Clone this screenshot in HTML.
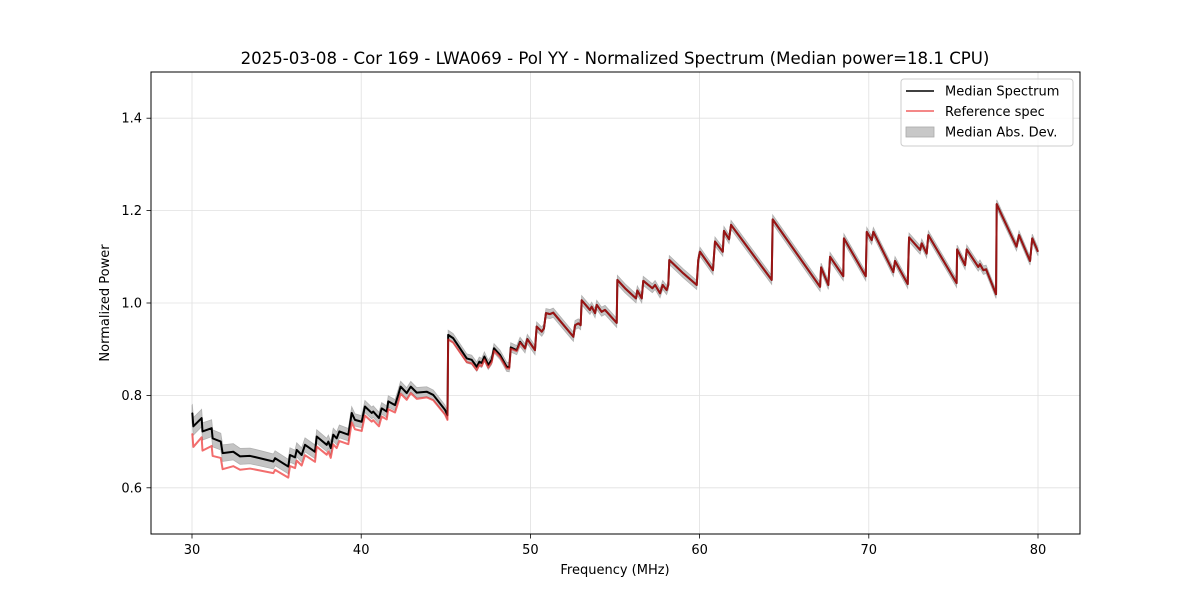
<!DOCTYPE html>
<html><head><meta charset="utf-8">
<style>
html,body{margin:0;padding:0;background:#fff;}
svg{display:block;font-family:"DejaVu Sans","Liberation Sans",sans-serif;}
</style></head>
<body>
<svg id="chart" width="1200" height="600" viewBox="0 0 1200 600" xmlns="http://www.w3.org/2000/svg">
<rect width="1200" height="600" fill="#fff"/>
<text x="615" y="64" font-size="16.6" text-anchor="middle" fill="#000">2025-03-08 - Cor 169 - LWA069 - Pol YY - Normalized Spectrum (Median power=18.1 CPU)</text>
<g id="grid"></g>
<g id="marks"></g>
<rect x="151" y="72" width="929" height="462" fill="none" stroke="#000" stroke-width="1"/>
<g id="axes"></g>
<text x="615" y="574" font-size="13" text-anchor="middle">Frequency (MHz)</text>
<text transform="translate(109,303) rotate(-90)" font-size="13" text-anchor="middle">Normalized Power</text>
<g>
<rect x="901" y="79" width="172" height="67" rx="3" fill="#fff" fill-opacity="0.8" stroke="#ccc"/>
<g><line x1="906" y1="91" x2="934" y2="91" stroke="#000" stroke-width="1.5"/><text x="945" y="95.5" font-size="13">Median Spectrum</text></g>
<g><line x1="906" y1="111" x2="934" y2="111" stroke="rgba(235,30,30,0.7)" stroke-width="1.5"/><text x="945" y="116" font-size="13">Reference spec</text></g>
<g><rect x="906" y="127" width="28" height="10" fill="#c8c8c8" stroke="#aaa" stroke-width="0.8"/><text x="945" y="136.5" font-size="13">Median Abs. Dev.</text></g>
</g>
</svg>
<script>
const freqs = [30.00,30.02,30.08,30.57,30.62,31.16,31.22,31.70,31.81,32.44,32.84,33.43,34.02,34.81,34.91,35.69,35.79,36.09,36.19,36.48,36.68,37.27,37.37,37.96,38.06,38.20,38.35,38.55,38.71,39.24,39.44,39.63,40.03,40.22,40.62,40.71,41.05,41.21,41.51,41.60,42.00,42.19,42.33,42.69,42.93,43.28,43.87,44.26,44.95,45.10,45.14,45.43,46.24,46.53,46.83,46.98,47.12,47.28,47.51,47.71,47.85,48.20,48.60,48.75,48.84,49.19,49.39,49.68,49.82,50.27,50.37,50.67,50.80,50.92,51.16,51.35,52.54,52.64,52.83,52.97,53.03,53.52,53.62,53.82,53.92,54.21,54.41,55.10,55.14,55.59,56.24,56.32,56.58,56.67,57.21,57.37,57.66,57.82,58.05,58.15,58.21,59.04,59.83,59.92,60.02,60.79,60.91,61.37,61.44,61.74,61.86,64.26,64.32,67.12,67.18,67.61,67.71,68.49,68.53,69.82,69.88,70.17,70.27,71.45,71.55,72.30,72.38,73.03,73.13,73.42,73.52,75.19,75.22,75.69,75.79,76.47,76.57,76.77,76.93,77.52,77.56,77.86,78.73,78.88,79.53,79.66,80.00];
const medianValues = [0.760,0.761,0.733,0.751,0.722,0.729,0.707,0.700,0.675,0.678,0.668,0.669,0.664,0.657,0.664,0.646,0.671,0.666,0.682,0.671,0.693,0.678,0.711,0.693,0.700,0.686,0.715,0.707,0.722,0.715,0.762,0.747,0.743,0.776,0.762,0.765,0.751,0.772,0.765,0.787,0.779,0.801,0.819,0.805,0.819,0.806,0.808,0.801,0.769,0.757,0.931,0.924,0.880,0.877,0.862,0.873,0.870,0.884,0.866,0.877,0.902,0.888,0.862,0.861,0.904,0.898,0.916,0.902,0.922,0.898,0.949,0.938,0.945,0.978,0.976,0.979,0.927,0.952,0.956,0.952,1.006,0.985,0.992,0.978,0.996,0.981,0.985,0.957,1.050,1.032,1.010,1.027,1.010,1.048,1.032,1.039,1.021,1.039,1.028,1.039,1.093,1.064,1.039,1.093,1.111,1.071,1.133,1.111,1.156,1.138,1.169,1.050,1.181,1.035,1.077,1.039,1.100,1.058,1.140,1.058,1.154,1.136,1.154,1.067,1.091,1.041,1.142,1.115,1.129,1.107,1.147,1.043,1.116,1.082,1.116,1.078,1.084,1.071,1.073,1.019,1.214,1.190,1.122,1.147,1.091,1.140,1.111];
const refOffsetFreqs = [30,33,37,40,44,45.1,48,50,80];
const refOffsets = [0.045,0.028,0.022,0.02,0.012,0.01,0.005,0,0];
const madFreqs = [30,45,80];
const madValues = [0.019,0.01,0.009];
const xTicks = [30,40,50,60,70,80];
const yTicks = [0.6,0.8,1.0,1.2,1.4];
const yTickLabels = ["0.6","0.8","1.0","1.2","1.4"];

const NS = "http://www.w3.org/2000/svg";
const xs = f => 192 + (f - 30) * 16.92;
const ys = v => 534 - (v - 0.5) * 462;
function interp(fx, fa, va){
  if (fx <= fa[0]) return va[0];
  for (let i=1;i<fa.length;i++) if (fx<=fa[i]) { const t=(fx-fa[i-1])/(fa[i]-fa[i-1]); return va[i-1]+t*(va[i]-va[i-1]); }
  return va[va.length-1];
}
function mk(tag, attrs, parent){ const e=document.createElementNS(NS,tag); for(const k in attrs) e.setAttribute(k,attrs[k]); parent.appendChild(e); return e; }

const grid=document.getElementById('grid'), axes=document.getElementById('axes'), marks=document.getElementById('marks');
xTicks.forEach(t=>{
  const gl=mk('line',{x1:xs(t),x2:xs(t),y1:72,y2:534,stroke:'#e0e0e0','stroke-width':0.8},grid);
  
  
  const tk=mk('line',{x1:xs(t),x2:xs(t),y1:534,y2:538.5,stroke:'#000','stroke-width':0.8},axes);
  
  
  const lb=mk('text',{x:xs(t),y:554,'font-size':13,'text-anchor':'middle'},axes);
  lb.textContent=String(t);
  
  
});
yTicks.forEach((t,i)=>{
  const gl=mk('line',{x1:151,x2:1080,y1:ys(t),y2:ys(t),stroke:'#e0e0e0','stroke-width':0.8},grid);
  
  
  const tk=mk('line',{x1:146.5,x2:151,y1:ys(t),y2:ys(t),stroke:'#000','stroke-width':0.8},axes);
  
  
  const lb=mk('text',{x:142,y:ys(t)+4.5,'font-size':13,'text-anchor':'end'},axes);
  lb.textContent=yTickLabels[i];
  
  
});

let up=[], dn=[];
freqs.forEach((f,i)=>{ const m=interp(f,madFreqs,madValues); up.push(xs(f).toFixed(2)+','+ys(medianValues[i]+m).toFixed(2)); dn.push(xs(f).toFixed(2)+','+ys(medianValues[i]-m).toFixed(2)); });
const band=mk('polygon',{points:up.concat(dn.reverse()).join(' '),fill:'#c4c4c4',stroke:'#b0b0b0','stroke-width':0.8},marks);



const medPts=freqs.map((f,i)=>xs(f).toFixed(2)+','+ys(medianValues[i]).toFixed(2)).join(' ');
const med=mk('polyline',{points:medPts,fill:'none',stroke:'#000','stroke-width':2,'stroke-linejoin':'round'},marks);



const refPts=freqs.map((f,i)=>xs(f).toFixed(2)+','+ys(medianValues[i]-interp(f,refOffsetFreqs,refOffsets)).toFixed(2)).join(' ');
const ref=mk('polyline',{points:refPts,fill:'none',stroke:'rgba(235,30,30,0.65)','stroke-width':2,'stroke-linejoin':'round'},marks);


</script>
</body></html>
